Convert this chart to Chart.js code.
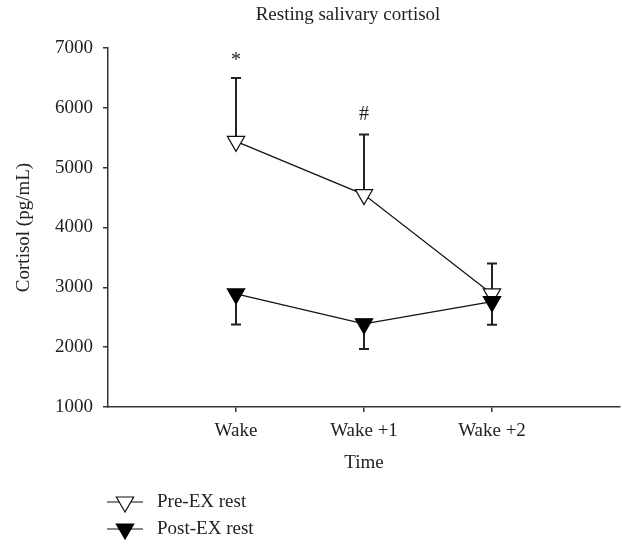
<!DOCTYPE html>
<html lang="en">
<head>
    <meta charset="UTF-8">
    <title>Resting salivary cortisol</title>
    <script src="https://cdn.jsdelivr.net/npm/chart.js"></script>
    <style>
        body { margin: 0; background: #fff; }
    </style>
</head>
<body>
    <canvas id="cortisolChart" width="622" height="545"></canvas>

    <script>
        // data
        const timeLabels = ['Wake', 'Wake +1', 'Wake +2'];
        const timePos = [1, 2, 3];
        const preMean = [5440, 4550, 2890];
        const preErr = [1060, 1005, 510];    // drawn upwards
        const postMean = [2890, 2390, 2760];
        const postErr = [510, 420, 385];     // drawn downwards
        const sigMarks = ['*', '#', ''];
        const yTicks = [1000, 2000, 3000, 4000, 5000, 6000, 7000];
        const chartTitle = 'Resting salivary cortisol';

        const serif = 'Liberation Serif, Times New Roman, serif';
        const textColor = '#222';
        const axisColor = '#333';

        function toPoints(means) {
            return timePos.map((x, i) => ({ x: x, y: means[i] }));
        }

        // error bars (one-sided) and the significance marks
        const errorBars = {
            id: 'errorBars',
            beforeDatasetsDraw(chart) {
                const ctx = chart.ctx;
                const yScale = chart.scales.y;
                ctx.save();
                ctx.strokeStyle = '#222';
                ctx.lineWidth = 2;
                chart.data.datasets.forEach((ds, di) => {
                    const meta = chart.getDatasetMeta(di);
                    meta.data.forEach((pt, i) => {
                        const end = ds.means[i] + ds.dir * ds.errs[i];
                        const y0 = yScale.getPixelForValue(ds.means[i]);
                        const y1 = yScale.getPixelForValue(end);
                        ctx.beginPath();
                        ctx.moveTo(pt.x, y0);
                        ctx.lineTo(pt.x, y1);
                        ctx.moveTo(pt.x - 5, y1);
                        ctx.lineTo(pt.x + 5, y1);
                        ctx.stroke();
                    });
                });
                ctx.restore();
            },
            afterDatasetsDraw(chart) {
                const ctx = chart.ctx;
                const xScale = chart.scales.x;
                const yScale = chart.scales.y;
                ctx.save();
                ctx.fillStyle = textColor;
                ctx.font = '20px ' + serif;
                ctx.textAlign = 'center';
                ctx.textBaseline = 'middle';
                sigMarks.forEach((m, i) => {
                    if (!m) return;
                    const x = xScale.getPixelForValue(timePos[i]);
                    const y = yScale.getPixelForValue(preMean[i] + preErr[i]) - 20;
                    ctx.fillText(m, x, m === '*' ? y + 3 : y);
                });
                ctx.restore();
            }
        };

        // title (sits a bit left of the plot centre) and the stacked legend
        const titleAndLegend = {
            id: 'titleAndLegend',
            afterDraw(chart) {
                const ctx = chart.ctx;
                ctx.save();
                ctx.fillStyle = textColor;
                ctx.font = '19px ' + serif;
                ctx.textAlign = 'center';
                ctx.textBaseline = 'middle';
                ctx.fillText(chartTitle, 348, 15);

                const rows = [502, 529];
                chart.data.datasets.forEach((ds, r) => {
                    const y = rows[r];
                    ctx.strokeStyle = ds.borderColor;
                    ctx.lineWidth = 1.2;
                    ctx.beginPath();
                    ctx.moveTo(107, y);
                    ctx.lineTo(143, y);
                    ctx.stroke();
                    ctx.fillStyle = ds.pointBackgroundColor;
                    ctx.strokeStyle = ds.pointBorderColor;
                    ctx.lineWidth = ds.pointBorderWidth;
                    Chart.helpers.drawPoint(ctx, {
                        pointStyle: 'triangle',
                        radius: ds.pointRadius,
                        rotation: 180,
                        borderWidth: ds.pointBorderWidth
                    }, 125, y);
                    ctx.fillStyle = textColor;
                    ctx.textAlign = 'left';
                    ctx.fillText(ds.label, 157, y);
                });
                ctx.restore();
            }
        };

        const tickFont = { family: serif, size: 19 };

        new Chart(document.getElementById('cortisolChart'), {
            type: 'line',
            data: {
                datasets: [
                    {
                        label: 'Pre-EX rest',
                        data: toPoints(preMean),
                        means: preMean,
                        errs: preErr,
                        dir: 1,
                        order: 2,
                        borderColor: '#111',
                        borderWidth: 1.2,
                        pointStyle: 'triangle',
                        pointRotation: 180,
                        pointRadius: 10,
                        pointBackgroundColor: '#fff',
                        pointBorderColor: '#111',
                        pointBorderWidth: 1.2,
                        tension: 0
                    },
                    {
                        label: 'Post-EX rest',
                        data: toPoints(postMean),
                        means: postMean,
                        errs: postErr,
                        dir: -1,
                        order: 1,
                        borderColor: '#111',
                        borderWidth: 1.2,
                        pointStyle: 'triangle',
                        pointRotation: 180,
                        pointRadius: 10,
                        pointBackgroundColor: '#000',
                        pointBorderColor: '#000',
                        pointBorderWidth: 1.2,
                        tension: 0
                    }
                ]
            },
            options: {
                responsive: false,
                animation: false,
                layout: { autoPadding: false, padding: { left: 0, right: 2, top: 48, bottom: 68 } },
                plugins: {
                    legend: { display: false },
                    tooltip: { enabled: false },
                    title: { display: false }
                },
                scales: {
                    x: {
                        type: 'linear',
                        min: 0,
                        max: 4,
                        afterBuildTicks: (s) => { s.ticks = timePos.map(v => ({ value: v })); },
                        afterFit: (s) => { s.height = 70; s.paddingLeft = 0; s.paddingRight = 0; },
                        ticks: {
                            callback: (v, i) => timeLabels[i],
                            color: textColor,
                            font: tickFont,
                            padding: 8,
                            maxRotation: 0,
                            autoSkip: false
                        },
                        grid: { drawOnChartArea: false, tickLength: 5, color: axisColor, lineWidth: 1.5 },
                        border: { color: axisColor, width: 1.5 },
                        title: {
                            display: true,
                            text: 'Time',
                            color: textColor,
                            font: tickFont,
                            padding: { top: 0, bottom: 3 }
                        }
                    },
                    y: {
                        min: 1000,
                        max: 7000,
                        afterBuildTicks: (s) => { s.ticks = yTicks.map(v => ({ value: v })); },
                        afterFit: (s) => { s.width = 108; },
                        ticks: { callback: (v) => String(v), color: textColor, font: tickFont, padding: 10 },
                        grid: { drawOnChartArea: false, tickLength: 5, color: axisColor, lineWidth: 1.5 },
                        border: { color: axisColor, width: 1.5 },
                        title: {
                            display: true,
                            text: 'Cortisol (pg/mL)',
                            color: textColor,
                            font: tickFont,
                            padding: { top: 12.4, bottom: 0 }
                        }
                    }
                }
            },
            plugins: [errorBars, titleAndLegend]
        });
    </script>
</body>
</html>
